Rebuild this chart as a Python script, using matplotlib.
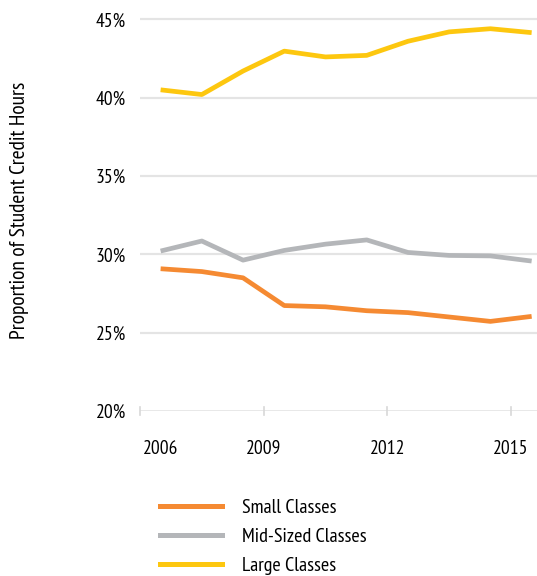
import matplotlib
matplotlib.use("Agg")
import matplotlib.pyplot as plt
from matplotlib.lines import Line2D

plt.rcParams['font.family'] = ['PT Sans Narrow', 'DejaVu Sans']

years = [2006.5, 2007.5, 2008.5, 2009.5, 2010.5, 2011.5, 2012.5, 2013.5, 2014.5, 2015.5]
small = [29.08, 28.9, 28.5, 26.73, 26.65, 26.4, 26.28, 26.0, 25.72, 26.04]
mid = [30.21, 30.85, 29.63, 30.25, 30.65, 30.92, 30.12, 29.93, 29.9, 29.57]
large = [40.5, 40.2, 41.7, 42.97, 42.6, 42.7, 43.6, 44.2, 44.4, 44.15]

series_names = ["Small Classes", "Mid-Sized Classes", "Large Classes"]
colors = ["#F58A32", "#B4B6B9", "#FDC70F"]

ytick_vals = [20, 25, 30, 35, 40, 45]
ytick_labels = ["20%", "25%", "30%", "35%", "40%", "45%"]
xtick_marks = [2006, 2009, 2012, 2015]
xtick_label_pos = [2006.5, 2009, 2012, 2015]
xtick_labels = ["2006", "2009", "2012", "2015"]

W, H = 537, 576
fig = plt.figure(figsize=(W / 100, H / 100), dpi=100)
ax = fig.add_axes([140 / W, (H - 411) / H, (W - 140) / W, (411 - 12) / H])

ax.set_xlim(2006.0, 2015.63)
ax.set_ylim(20, 45.0 + 7.3 / 15.6)

for v in ytick_vals:
    ax.axhline(v, color="#E4E4E4", lw=1.6 if v > 20 else 1.2, zorder=1)

for xm in xtick_marks:
    ax.plot([xm, xm], [19.75, 20.25], color="#D8D8D8", lw=1.2, zorder=1, clip_on=False)

for vals, c in zip([small, mid, large], colors):
    ax.plot(years, vals, color=c, lw=3.4, solid_capstyle="butt", solid_joinstyle="round", zorder=3)

for s in ax.spines.values():
    s.set_visible(False)
ax.set_yticks(ytick_vals)
ax.set_yticklabels(ytick_labels, fontsize=14)
ax.tick_params(axis="y", length=0, pad=10)
ax.set_xticks(xtick_label_pos)
ax.set_xticklabels(xtick_labels, fontsize=14)
ax.tick_params(axis="x", length=0, pad=21)

fig.text(20 / W, 1 - 210 / H, "Proportion of Student Credit Hours", rotation=90,
         ha="center", va="center", fontsize=15.5)

handles = [Line2D([0], [0], color=c, lw=3.6) for c in colors]
leg = fig.legend(handles, series_names, loc="upper left", bbox_to_anchor=(160 / W, 1 - 499 / H),
                 frameon=False, fontsize=14.5, handlelength=3.1, handletextpad=0.95,
                 labelspacing=0.55, borderaxespad=0, borderpad=0)

fig.savefig("out.png", dpi=100)
